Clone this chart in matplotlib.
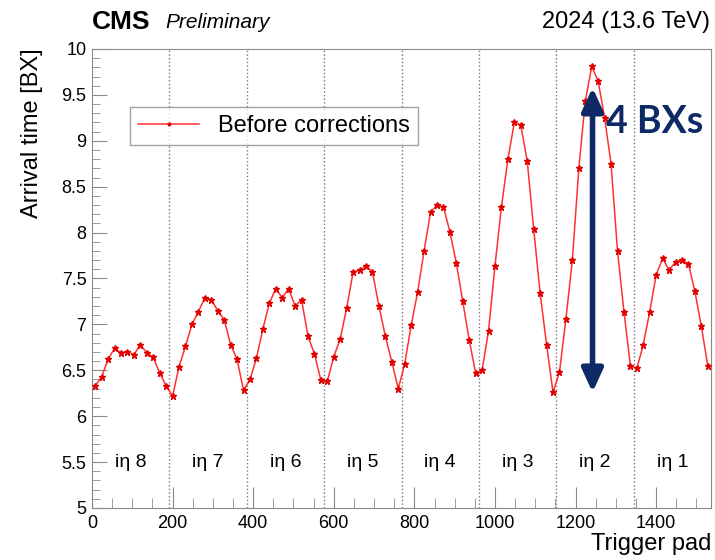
import matplotlib
matplotlib.use('Agg')
import matplotlib.pyplot as plt
import numpy as np
from matplotlib.ticker import MultipleLocator

plt.rcParams['font.family'] = ['Liberation Sans', 'DejaVu Sans']

# trigger pad bin centres (16 pads per point, 8 eta partitions of 192 pads)
pads = np.arange(8, 1536, 16)
arrival = [
    # i eta 8
    6.33, 6.43, 6.62, 6.74, 6.69, 6.70, 6.67, 6.78, 6.69, 6.64, 6.47, 6.33,
    # i eta 7
    6.22, 6.54, 6.76, 7.00, 7.14, 7.29, 7.27, 7.15, 7.05, 6.78, 6.62, 6.28,
    # i eta 6
    6.40, 6.63, 6.95, 7.23, 7.39, 7.29, 7.39, 7.20, 7.27, 6.87, 6.68, 6.39,
    # i eta 5
    6.38, 6.65, 6.84, 7.18, 7.57, 7.59, 7.64, 7.57, 7.20, 6.87, 6.59, 6.30,
    # i eta 4
    6.57, 6.99, 7.35, 7.80, 8.22, 8.30, 8.28, 8.01, 7.67, 7.25, 6.83, 6.47,
    # i eta 3
    6.50, 6.93, 7.64, 8.28, 8.80, 9.20, 9.17, 8.78, 8.04, 7.34, 6.78, 6.26,
    # i eta 2
    6.48, 7.06, 7.70, 8.70, 9.43, 9.81, 9.65, 9.25, 8.75, 7.80, 7.14, 6.55,
    # i eta 1
    6.52, 6.78, 7.14, 7.54, 7.72, 7.59, 7.68, 7.70, 7.66, 7.36, 6.98, 6.55,
]
boundaries = [192, 384, 576, 768, 960, 1152, 1344]
eta_labels = ['iη 8', 'iη 7', 'iη 6', 'iη 5', 'iη 4', 'iη 3', 'iη 2', 'iη 1']
eta_centres = [96, 288, 480, 672, 864, 1056, 1248, 1440]

navy = '#0d2a66'
grey = '#8a8a8a'

fig = plt.figure(figsize=(7.15, 5.6), dpi=100)
ax = fig.add_axes([92/715, 1-508/560, (711-92)/715, (508-49)/560])

for b in boundaries:
    ax.axvline(b, color='#777777', ls=':', lw=1, zorder=1)

ax.plot(pads, arrival, color='#ff3030', lw=1.1, marker='*', ms=4.5,
        mfc='#e00000', mec='#e00000', label='Before corrections', zorder=3)

for lab, xc in zip(eta_labels, eta_centres):
    ax.text(xc, 5.5, lab, ha='center', va='center', fontsize=14)

ax.set_xlim(0, 1536)
ax.set_ylim(5, 10)
ax.xaxis.set_major_locator(MultipleLocator(200))
ax.xaxis.set_minor_locator(MultipleLocator(50))
ax.yaxis.set_major_locator(MultipleLocator(0.5))
ax.yaxis.set_minor_locator(MultipleLocator(0.1))
ax.yaxis.set_major_formatter(plt.FuncFormatter(lambda v, p: f'{v:g}'))
ax.tick_params(which='both', direction='in', color=grey, labelsize=13,
               top=False, right=False)
ax.tick_params(axis='y', which='major', length=11, pad=4)
ax.tick_params(axis='y', which='minor', length=6)
ax.tick_params(axis='x', which='major', length=15, pad=5)
ax.tick_params(axis='x', which='minor', length=7)
for s in ax.spines.values():
    s.set_color(grey)

leg = ax.legend(loc='upper left', bbox_to_anchor=(0.061, 0.874),
                borderaxespad=0, fontsize=17, frameon=True, fancybox=False,
                handlelength=2.6, borderpad=0.35, markerscale=0.6)
leg.get_frame().set_edgecolor(grey)
leg.get_frame().set_linewidth(1)

# 4 BX spread annotation
ax.annotate('', xy=(1242, 9.58), xytext=(1242, 6.26),
            arrowprops=dict(arrowstyle='<|-|>,head_width=0.32,head_length=0.7',
                            mutation_scale=20, lw=4, color=navy,
                            shrinkA=0, shrinkB=0), zorder=4)
ax.text(1276, 9.2, '4 BXs', color=navy, fontsize=27, fontweight='bold',
        family='Lato', ha='left', va='center')

fig.text(32/715, 1-48/560, 'Arrival time [BX]', rotation=90,
         ha='center', va='top', fontsize=17)
fig.text(711/715, 1-544/560, 'Trigger pad', ha='right', va='center',
         fontsize=17)
fig.text(92/715, 1-22/560, 'CMS', fontweight='bold', fontsize=19,
         ha='left', va='center')
fig.text(165/715, 1-22/560, 'Preliminary', style='italic', fontsize=15,
         ha='left', va='center')
fig.text(710/715, 1-22/560, '2024 (13.6 TeV)', fontsize=17,
         ha='right', va='center')

fig.savefig('out.png', dpi=100)
